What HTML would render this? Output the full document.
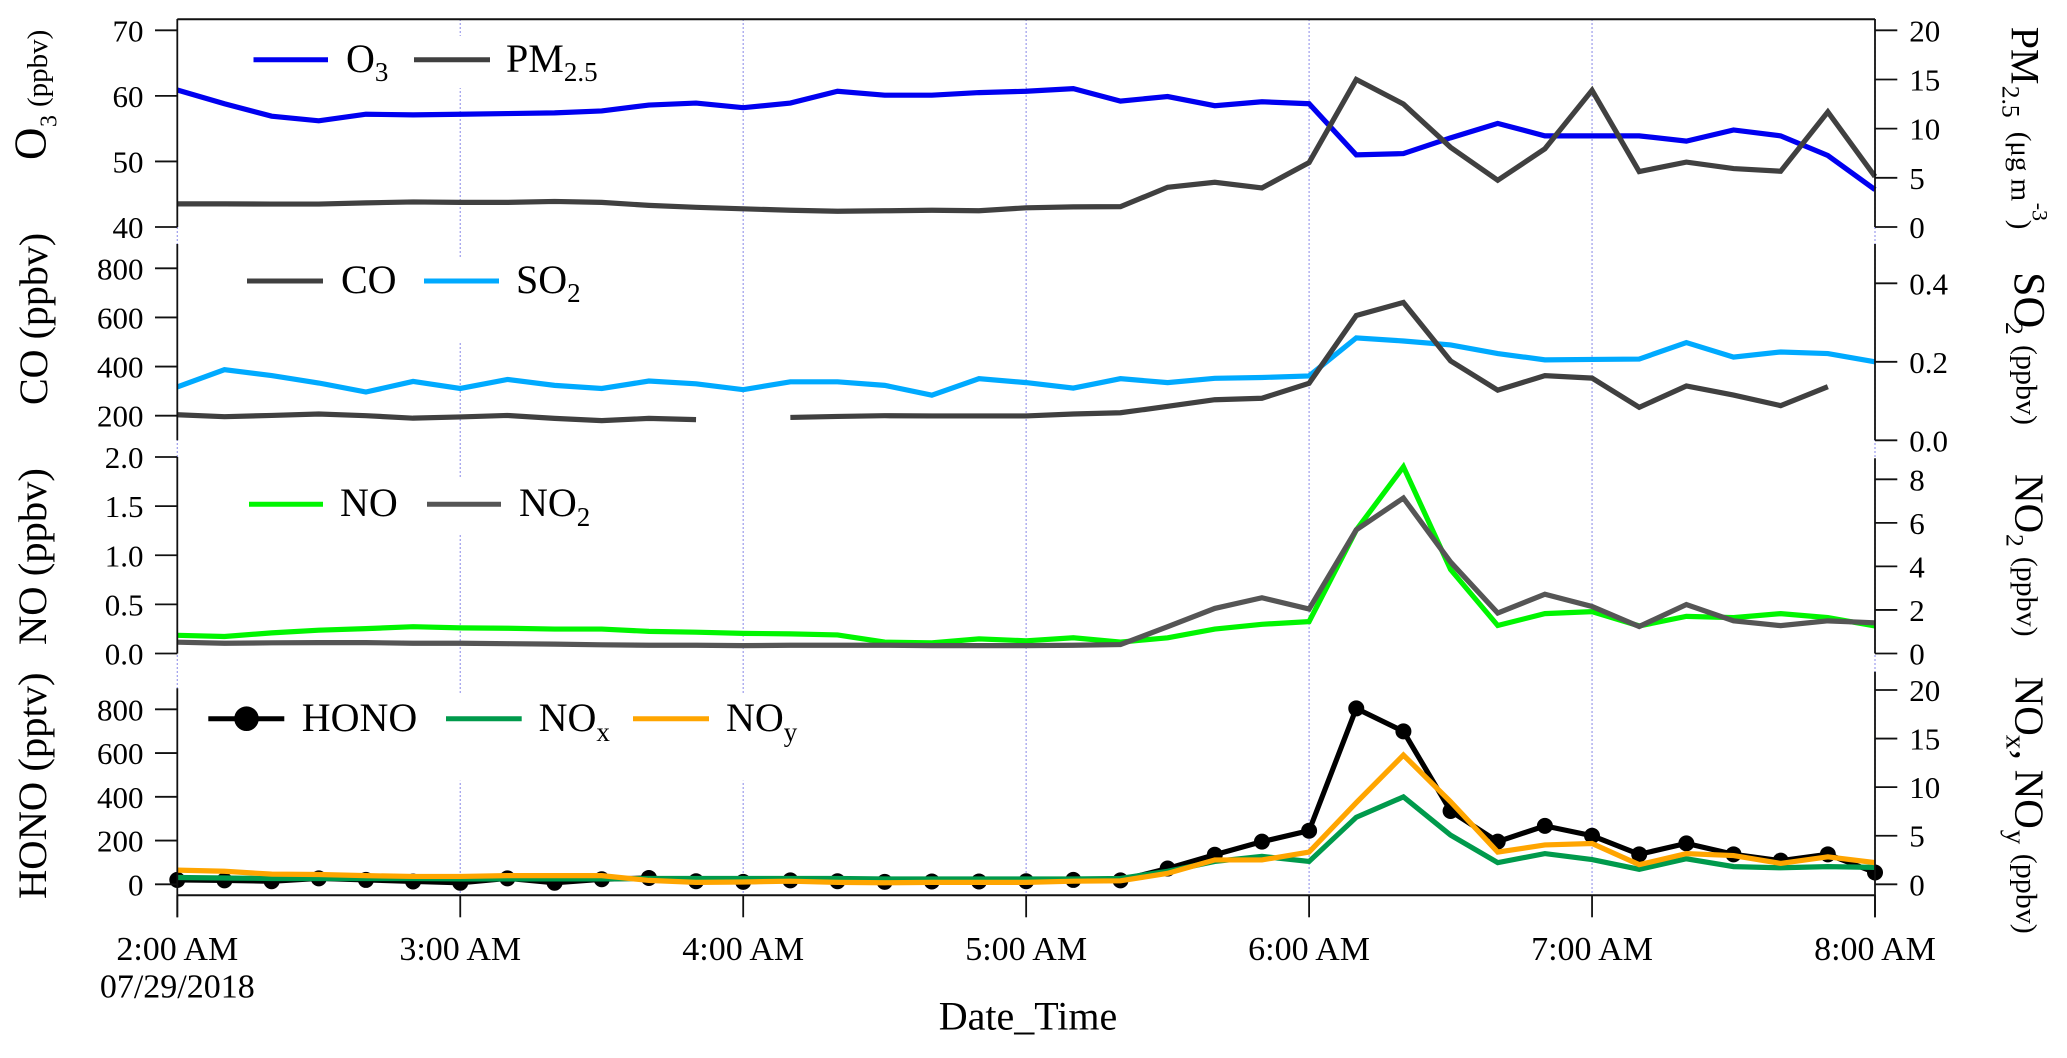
<!DOCTYPE html>
<html lang="en">
<head>
<meta charset="utf-8">
<title>Time series of O3, PM2.5, CO, SO2, NO, NO2, HONO, NOx and NOy</title>
<style>
html,body{margin:0;padding:0;background:#fff;}
svg{display:block;font-family:"Liberation Serif",serif;fill:#000;}
</style>
</head>
<body>
<svg id="chart" xmlns="http://www.w3.org/2000/svg" width="2067" height="1058" viewBox="0 0 2067 1058">
  <rect x="0" y="0" width="2067" height="1058" fill="#fff"/>
  <g id="grid"></g>
  <g id="series"></g>
  <g id="axes"></g>

  <g>
    <rect x="240" y="36" width="380" height="52" fill="#fff"/>
    <line x1="253.5" x2="328" y1="59.7" y2="59.7" stroke="#0000f0" stroke-width="5"/>
    <text x="346" y="72" font-size="40">O<tspan font-size="27" dy="9">3</tspan></text>
    <line x1="414" x2="490" y1="59.7" y2="59.7" stroke="#404040" stroke-width="5"/>
    <text x="506" y="72" font-size="40">PM<tspan font-size="27" dy="9">2.5</tspan></text>
  </g>
  <g>
    <rect x="235" y="257" width="380" height="84" fill="#fff"/>
    <line x1="247" x2="323" y1="281" y2="281" stroke="#404040" stroke-width="5"/>
    <text x="341" y="293" font-size="40">CO</text>
    <line x1="424" x2="499" y1="281" y2="281" stroke="#00aaff" stroke-width="5"/>
    <text x="516" y="293" font-size="40">SO<tspan font-size="27" dy="9">2</tspan></text>
  </g>
  <g>
    <rect x="235" y="478.6" width="380" height="54.7" fill="#fff"/>
    <line x1="249" x2="323" y1="504.3" y2="504.3" stroke="#00f500" stroke-width="5"/>
    <text x="340" y="516" font-size="40">NO</text>
    <line x1="427" x2="501" y1="504.3" y2="504.3" stroke="#555555" stroke-width="5"/>
    <text x="519" y="516" font-size="40">NO<tspan font-size="27" dy="10">2</tspan></text>
  </g>
  <g>
    <rect x="195" y="694" width="640" height="86.7" fill="#fff"/>
    <line x1="208.3" x2="284.3" y1="718.7" y2="718.7" stroke="#000" stroke-width="5"/>
    <circle cx="246.5" cy="718.7" r="12.3" fill="#000"/>
    <text x="301.7" y="731" font-size="40">HONO</text>
    <line x1="446" x2="521.7" y1="718.7" y2="718.7" stroke="#009a4c" stroke-width="5"/>
    <text x="538.6" y="731" font-size="40">NO<tspan font-size="27" dy="10">x</tspan></text>
    <line x1="633" x2="709" y1="718.7" y2="718.7" stroke="#ffa500" stroke-width="5"/>
    <text x="726" y="731" font-size="40">NO<tspan font-size="27" dy="10">y</tspan></text>
  </g>

  <g>
    <text transform="translate(45.5,160) rotate(-90)" font-size="45">O<tspan x="33" font-size="24" dy="11">3</tspan><tspan x="53" font-size="29" dy="-9.5">(ppbv)</tspan></text>
    <text transform="translate(47,405) rotate(-90)" font-size="40">CO (ppbv)</text>
    <text transform="translate(46,645) rotate(-90)" font-size="40.6">NO (ppbv)</text>
    <text transform="translate(46,899) rotate(-90)" font-size="40.6">HONO (pptv)</text>
    <text transform="translate(2011.7,26.7) rotate(90)" font-size="40">PM<tspan x="59" font-size="25.6" dy="9">2.5</tspan><tspan x="105" font-size="29" dy="-9">(μg m</tspan><tspan x="176" font-size="22" dy="-21">-3</tspan><tspan x="193" font-size="29" dy="21">)</tspan></text>
    <text transform="translate(2015,272) rotate(90)" font-size="44">SO<tspan x="50" font-size="25.6" dy="9">2</tspan><tspan x="73" font-size="30" dy="-10.5">(ppbv)</tspan></text>
    <text transform="translate(2015.3,474) rotate(90)" font-size="41">NO<tspan x="60" font-size="25.6" dy="9">2</tspan><tspan x="82.7" font-size="30" dy="-10.5">(ppbv)</tspan></text>
    <text transform="translate(2015.3,676.7) rotate(90)" font-size="41">NO<tspan x="58" font-size="29" dy="8.6">x</tspan><tspan x="73" dy="-8.6">,</tspan><tspan x="93">NO</tspan><tspan x="153" font-size="29" dy="8.6">y</tspan><tspan x="177" font-size="30" dy="-10">(ppbv)</tspan></text>
    <text x="1028" y="1029.6" font-size="40" text-anchor="middle">Date_Time</text>
    <text x="177.3" y="997.7" font-size="34" text-anchor="middle">07/29/2018</text>
  </g>
</svg>
<script>
// ---- data ----
const sampleMinutes = [0,10,20,30,40,50,60,70,80,90,100,110,120,130,140,150,160,170,180,190,200,210,220,230,240,250,260,270,280,290,300,310,320,330,340,350,360];
const hourMinutes = [0,60,120,180,240,300,360];
const hourLabels = ['2:00 AM','3:00 AM','4:00 AM','5:00 AM','6:00 AM','7:00 AM','8:00 AM'];

const o3 = [60.9,58.8,56.9,56.2,57.2,57.1,57.2,57.3,57.4,57.7,58.6,58.9,58.2,58.9,60.7,60.1,60.1,60.5,60.7,61.1,59.2,59.9,58.5,59.1,58.8,51.0,51.2,53.6,55.8,53.9,53.9,53.9,53.1,54.8,53.9,50.9,45.7];
const pm25 = [2.35,2.35,2.33,2.33,2.45,2.55,2.5,2.5,2.6,2.5,2.2,2.0,1.85,1.7,1.6,1.65,1.7,1.65,1.95,2.05,2.07,4.04,4.55,3.97,6.55,15.0,12.5,8.1,4.75,7.95,13.9,5.64,6.6,5.94,5.67,11.7,5.13];
const co = [204,196,201,207,200,190,195,201,189,180,189,184,null,193,197,200,199,199,199,207,212,238,265,271,332,608,661,423,304,363,353,234,321,284,241,318,null];
const so2 = [0.136,0.18,0.165,0.146,0.123,0.15,0.132,0.155,0.14,0.132,0.151,0.144,0.129,0.149,0.149,0.14,0.115,0.157,0.147,0.133,0.157,0.147,0.158,0.16,0.164,0.261,0.253,0.243,0.221,0.205,0.206,0.207,0.249,0.212,0.225,0.221,0.2];
const no = [0.185,0.173,0.21,0.237,0.253,0.273,0.261,0.257,0.249,0.249,0.225,0.217,0.205,0.2,0.189,0.116,0.108,0.149,0.129,0.16,0.116,0.16,0.249,0.297,0.325,1.257,1.9,0.855,0.285,0.406,0.426,0.281,0.378,0.365,0.406,0.365,0.281];
const no2 = [0.52,0.47,0.49,0.5,0.5,0.47,0.47,0.45,0.43,0.4,0.38,0.38,0.36,0.38,0.38,0.38,0.36,0.36,0.36,0.38,0.41,1.23,2.07,2.56,2.04,5.68,7.14,4.2,1.86,2.72,2.16,1.24,2.25,1.5,1.28,1.5,1.41];
const hono = [20,18,14,27,20,13,7,27,7,23,29,14,11,18,14,11,13,13,14,20,18,72,135,195,245,804,699,335,195,267,222,137,187,137,108,137,54];
const nox = [0.7,0.65,0.6,0.6,0.6,0.6,0.55,0.55,0.55,0.55,0.6,0.6,0.6,0.6,0.6,0.55,0.55,0.55,0.55,0.55,0.6,1.34,2.35,2.87,2.35,6.9,9.0,5.06,2.23,3.16,2.55,1.54,2.63,1.82,1.7,1.82,1.74];
const noy = [1.46,1.34,1.05,1.01,0.89,0.81,0.81,0.89,0.89,0.89,0.4,0.2,0.24,0.32,0.2,0.16,0.2,0.2,0.2,0.32,0.36,1.13,2.51,2.51,3.32,8.4,13.3,8.5,3.32,4.05,4.2,2.02,3.16,2.96,2.15,2.83,2.23];

const o3Ticks = ['40','50','60','70'];
const pmTicks = ['0','5','10','15','20'];
const coTicks = ['200','400','600','800'];
const so2Ticks = ['0.0','0.2','0.4'];
const noTicks = ['0.0','0.5','1.0','1.5','2.0'];
const no2Ticks = ['0','2','4','6','8'];
const honoTicks = ['0','200','400','600','800'];
const noxTicks = ['0','5','10','15','20'];

// ---- axis functions ----
const X0 = 177.3, X1 = 1875;
function xScale(minute){ return X0 + (minute / 360) * (X1 - X0); }
function linear(v0, y0, v1, y1){ return function(v){ return y0 + (v - v0) * (y1 - y0) / (v1 - v0); }; }

const yO3   = linear(40, 227, 70, 30.3);
const yPM   = linear(0, 227, 20, 30.3);
const yCO   = linear(200, 415.7, 800, 268.3);
const ySO2  = linear(0, 440.3, 0.4, 283.3);
const yNO   = linear(0, 653.5, 2, 457);
const yNO2  = linear(0, 653.5, 8, 479.3);
const yHONO = linear(0, 884.3, 800, 709.3);
const yNOX  = linear(0, 884.3, 20, 690);

const NS = 'http://www.w3.org/2000/svg';
function make(tag, attrs, parent){
  const el = document.createElementNS(NS, tag);
  for (const k in attrs) el.setAttribute(k, attrs[k]);
  parent.appendChild(el);
  return el;
}
const gridG = document.getElementById('grid');
const seriesG = document.getElementById('series');
const axesG = document.getElementById('axes');

// gridlines
hourMinutes.forEach(function(m){
  const el = make('line', {x1:xScale(m), x2:xScale(m), y1:19, y2:895, stroke:'#9c9cec', 'stroke-width':1.2, 'stroke-dasharray':'2 2'}, gridG);
  
  
});

// series
function drawLine(name, values, yFn, color){
  let d = '', pen = false;
  values.forEach(function(v, i){
    if (v === null) { pen = false; return; }
    d += (pen ? 'L' : 'M') + xScale(sampleMinutes[i]).toFixed(2) + ' ' + yFn(v).toFixed(2);
    pen = true;
  });
  const el = make('path', {d:d, fill:'none', stroke:color, 'stroke-width':5.2, 'stroke-linejoin':'miter', 'stroke-miterlimit':6}, seriesG);
  
  
}
function drawPoints(name, values, yFn, color){
  values.forEach(function(v, i){
    const el = make('circle', {cx:xScale(sampleMinutes[i]), cy:yFn(v), r:8, fill:color}, seriesG);
    
    
  });
}
drawLine('o3', o3, yO3, '#0000f0');
drawLine('pm25', pm25, yPM, '#404040');
drawLine('so2', so2, ySO2, '#00aaff');
drawLine('co', co, yCO, '#404040');
drawLine('no', no, yNO, '#00f500');
drawLine('no2', no2, yNO2, '#555555');
drawLine('hono', hono, yHONO, '#000000');
drawPoints('hono', hono, yHONO, '#000000');
drawLine('nox', nox, yNOX, '#009a4c');
drawLine('noy', noy, yNOX, '#ffa500');

// axes
function drawYAxis(name, side, labels, yFn, top, bottom){
  const x = side === 'left' ? X0 : X1;
  const dir = side === 'left' ? -1 : 1;
  const ax = make('line', {x1:x, x2:x, y1:top, y2:bottom, stroke:'#111', 'stroke-width':1.8}, axesG);
  
  
  labels.forEach(function(label){
    const y = yFn(parseFloat(label));
    const t = make('line', {x1:x, x2:x + dir * 22.3, y1:y, y2:y, stroke:'#111', 'stroke-width':1.8}, axesG);
    
    
    const tx = make('text', {x: side === 'left' ? 143.5 : 1909.3, y: y + 11, 'font-size':31, 'text-anchor': side === 'left' ? 'end' : 'start'}, axesG);
    tx.textContent = label;
    
    
  });
}
drawYAxis('o3', 'left', o3Ticks, yO3, 19, 227);
drawYAxis('pm25', 'right', pmTicks, yPM, 19, 227);
drawYAxis('co', 'left', coTicks, yCO, 244, 440.3);
drawYAxis('so2', 'right', so2Ticks, ySO2, 244, 440.3);
drawYAxis('no', 'left', noTicks, yNO, 457, 653.5);
drawYAxis('no2', 'right', no2Ticks, yNO2, 458.3, 653.5);
drawYAxis('hono', 'left', honoTicks, yHONO, 688.3, 917.3);
drawYAxis('nox', 'right', noxTicks, yNOX, 671.7, 917.3);

const topLine = make('line', {x1:X0, x2:X1, y1:19.3, y2:19.3, stroke:'#111', 'stroke-width':2}, axesG);


const bottomLine = make('line', {x1:X0, x2:X1, y1:895.3, y2:895.3, stroke:'#111', 'stroke-width':2}, axesG);



hourMinutes.forEach(function(m, i){
  const x = xScale(m);
  const t = make('line', {x1:x, x2:x, y1:895.3, y2:917.3, stroke:'#111', 'stroke-width':1.8}, axesG);
  
  
  const tx = make('text', {x:x, y:960, 'font-size':34, 'text-anchor':'middle'}, axesG);
  tx.textContent = hourLabels[i];
  
  
});
</script>
</body>
</html>
